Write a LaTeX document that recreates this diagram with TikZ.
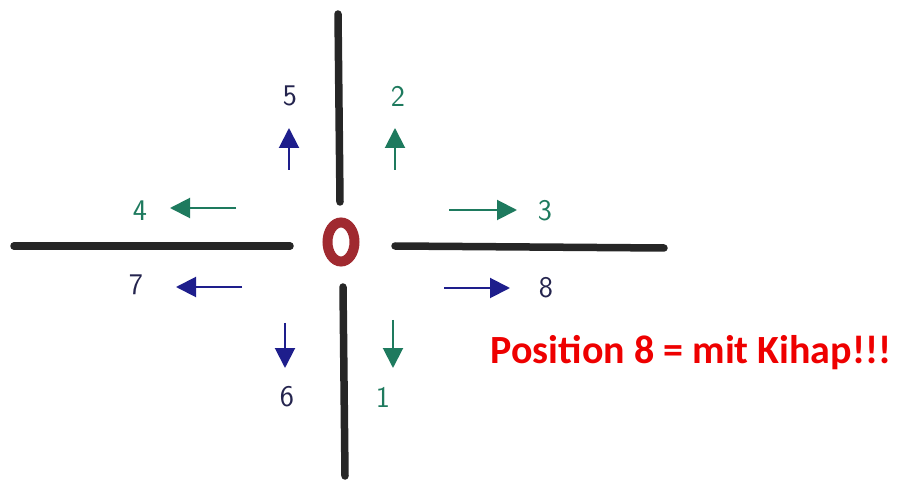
\documentclass[tikz,border=0pt]{standalone}
\usepackage{fontspec}
\newfontfamily\notefont{Carlito}
\usetikzlibrary{arrows.meta,shapes.geometric}
\definecolor{inkdark}{HTML}{262626}
\definecolor{inkgreen}{HTML}{1E7A5E}
\definecolor{inkblue}{HTML}{1E1E8C}
\definecolor{inknavy}{HTML}{24244E}
\definecolor{inkred}{HTML}{A02A30}
\definecolor{notered}{HTML}{EE0000}
\tikzset{
  axis/.style={line width=7.5pt, inkdark, line cap=round},
  move/.style={line width=2pt, -{Triangle[length=20pt,width=20pt]}},
  digit/.style={font=\sffamily\fontsize{30}{30}\selectfont, inner sep=0pt},
}
\begin{document}
\begin{tikzpicture}[x=1pt,y=-1pt]
\useasboundingbox (0,0) rectangle (903,481);
% centre mark
\node[draw=inkred, line width=10pt, ellipse, minimum width=27pt, minimum height=39pt, inner sep=0pt] (c) at (341,242) {};
% the four axes
\coordinate (nt) at (338,14);  \coordinate (nb) at (340,202);
\coordinate (st) at (343,287); \coordinate (sb) at (345,476);
\coordinate (wl) at (14,246);  \coordinate (wr) at (290,246);
\coordinate (el) at (395,246); \coordinate (er) at (664,248);
\draw[axis] (nt) -- (nb);
\draw[axis] (st) -- (sb);
\draw[axis] (wl) -- (wr);
\draw[axis] (el) -- (er);
% position numbers
\node[digit, text=inknavy]  (p5) at (290,96)  {5};
\node[digit, text=inkgreen] (p2) at (398,96)  {2};
\node[digit, text=inkgreen] (p4) at (140,211) {4};
\node[digit, text=inkgreen] (p3) at (545,211) {3};
\node[digit, text=inknavy]  (p7) at (136,285) {7};
\node[digit, text=inknavy]  (p8) at (546,288) {8};
\node[digit, text=inknavy]  (p6) at (287,397) {6};
\node[digit, text=inkgreen] (p1) at (383,397) {1};
% movement arrows
\coordinate (a5s) at (289,170); \coordinate (a5e) at (289,128);
\coordinate (a2s) at (395,170); \coordinate (a2e) at (395,128);
\coordinate (a4s) at (236,208); \coordinate (a4e) at (170,208);
\coordinate (a3s) at (449,210); \coordinate (a3e) at (517,210);
\coordinate (a7s) at (242,287); \coordinate (a7e) at (176,287);
\coordinate (a8s) at (444,288); \coordinate (a8e) at (510,288);
\coordinate (a6s) at (285,323); \coordinate (a6e) at (285,368);
\coordinate (a1s) at (393,320); \coordinate (a1e) at (393,368);
\draw[move, inkblue]  (a5s) -- (a5e);
\draw[move, inkgreen] (a2s) -- (a2e);
\draw[move, inkgreen] (a4s) -- (a4e);
\draw[move, inkgreen] (a3s) -- (a3e);
\draw[move, inkblue]  (a7s) -- (a7e);
\draw[move, inkblue]  (a8s) -- (a8e);
\draw[move, inkblue]  (a6s) -- (a6e);
\draw[move, inkgreen] (a1s) -- (a1e);
% note
\node[anchor=base, inner sep=0pt, text=notered, font=\notefont\bfseries\fontsize{40}{40}\selectfont] (note) at (691,363) {Position 8 = mit Kihap!!!};
\end{tikzpicture}
\end{document}
